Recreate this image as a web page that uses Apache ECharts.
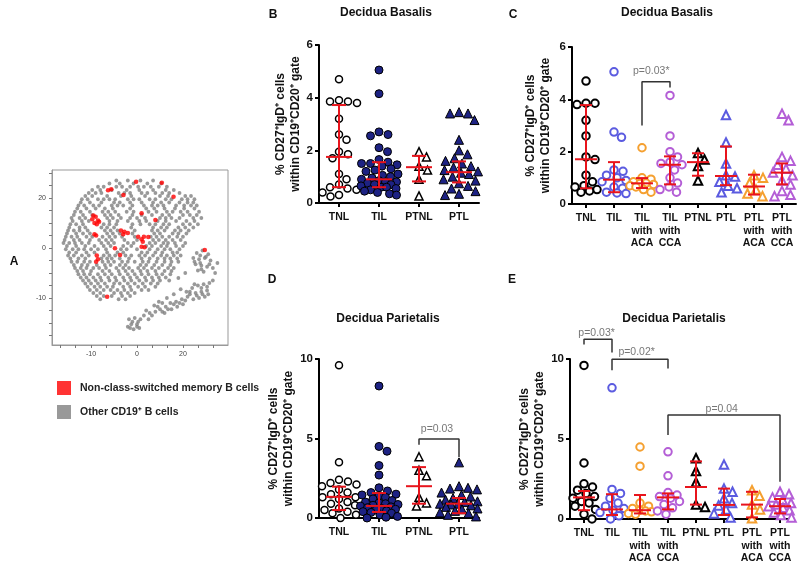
<!DOCTYPE html>
<html><head><meta charset="utf-8">
<script src="https://cdn.jsdelivr.net/npm/echarts@6/dist/echarts.min.js"></script>
<style>html,body{margin:0;padding:0;background:#fff}#c{width:800px;height:566px}</style>
</head><body><div id="c"></div>
<script>
// ================= DATA =================
// Panel A: t-SNE map
const tsneTickValues = [-20, 0, 20];
const tsneTickLabels = ['-10', '0', '20'];
const tsneGrayRows = [
  [27, -9, -4, 1.5, 7],
  [24.5, -17, -14.5, -9, -6.5, -3, 0.5, 3, 6, 9.5, 13],
  [22, -21, -18, -15.5, -8, -5.5, -3, 2, 4.5, 8, 11, 14, 18.5],
  [19.5, -24, -21.5, -17, -14.5, -12, -9.5, -4, -1.5, 1, 5.5, 8, 12.5, 15, 19.5, 22, 25],
  [17, -25.5, -23, -19, -16.5, -11, -8.5, -6, -2, 3, 6.5, 9, 11.5, 17, 20.5, 23.5, 26],
  [14.5, -27, -24.5, -20.5, -15, -12.5, -9.5, -4.5, -1.5, 5, 8.5, 13, 15.5, 19, 22, 27],
  [12, -28.5, -25, -22.5, -13, -10.5, -7, -3, 0, 3.5, 10, 12.5, 15, 18.5, 24.5, 28],
  [9.5, -29, -26.5, -23.5, -14.5, -12, -9, -2, 1.5, 5.5, 8, 11.5, 14, 20, 23, 26.5],
  [7, -30, -27.5, -25, -21.5, -14, -11.5, -8.5, -1, 6.5, 9, 12, 16.5, 19, 22.5],
  [4.5, -31, -28.5, -26, -22, -19.5, -15, -12, -9.5, -6.5, -1, 6, 8.5, 11, 14, 17.5, 20],
  [2, -32, -29.5, -27, -24, -21, -15.5, -12.5, -10, -4, -1.5, 5.5, 8, 11.5, 13.5, 16.5, 21],
  [-0.5, -31, -28, -25.5, -23, -20, -17, -13.5, -7, -4.5, 0, 5.5, 9, 12, 14.5, 18.5],
  [-3, -30, -27.5, -24, -21, -14.5, -12, -9.5, -5, -2.5, 1, 3.5, 7, 10.5, 13, 16, 19],
  [-5.5, -28.5, -26, -23, -20.5, -15, -12.5, -10, -6.5, -4, -1, 2.5, 5, 8.5, 12, 15, 18],
  [-8, -27, -24.5, -22, -19, -16.5, -13.5, -9, -6, -3.5, 0.5, 3, 6.5, 9.5, 13.5, 16],
  [-10.5, -25.5, -23, -20.5, -17, -14, -11, -7.5, -4, -1, 2, 5, 8.5, 11, 14.5],
  [-13, -23.5, -21, -18, -15.5, -12, -9, -5.5, -2.5, 1, 4, 7, 10],
  [-15.5, -21.5, -18.5, -16, -13, -10.5, -6, -3, 0.5, 3.5, 8],
  [-18, -19, -16, -10, -7, -4, -1],
  [-20.5, -16, -8, -5],
  [25.8, -12, -7.5, -1.5, 4.5, 10.5],
  [23.2, -19.5, -16, -11, -4.5, 1, 7, 12.5, 16],
  [20.8, -22.5, -19.5, -13, -7, -2.5, 3.5, 10, 13.5, 21, 23.5],
  [18.2, -24.5, -20.5, -15.5, -10, -7.5, -3, 2, 7, 10.5, 14, 18.5, 22, 24.5],
  [15.8, -26, -22, -18, -14, -10.5, -3, 4, 7.5, 12, 16.5, 20.5, 25],
  [13.2, -27.5, -23.5, -19.5, -14, -11.5, -8, -2, 2, 6.5, 11, 14, 20, 23, 26],
  [10.8, -28, -24, -21, -12, -8.5, -4, 1, 4, 9, 12.5, 17, 21.5, 25],
  [8.2, -29.5, -25, -22.5, -15.5, -13, -10, -2.5, 7, 10.5, 13, 18, 21, 24.5],
  [5.8, -30.5, -26.5, -23.5, -20.5, -13, -10.5, -7.5, -2, 7.5, 10, 15.5, 18, 21.5],
  [3.2, -31.5, -27.5, -25, -20.5, -16.5, -13.5, -11, -5.5, 0, 7, 9.5, 12.5, 15.5, 19],
  [0.8, -30.5, -26.5, -22.5, -18.5, -14.5, -11.5, -6, -2.5, 4, 6.5, 10.5, 13, 17, 20],
  [-1.8, -29.5, -26.5, -22, -18.5, -13, -8.5, -6, 2, 4.5, 8, 11, 15.5, 17.5],
  [-4.2, -29, -25.5, -22.5, -15.5, -13, -11, -7.5, -3.5, 2, 5.5, 9, 12, 14.5, 17.5],
  [-6.8, -27.5, -24, -21.5, -17.5, -14, -11.5, -7.5, -5, 1.5, 4, 7.5, 11, 14.5],
  [-9.2, -26, -23.5, -20, -15, -12, -8, -5, -2, 1.5, 4.5, 8, 12, 15],
  [-11.8, -24.5, -22, -19, -16, -12.5, -9.5, -6, -3, 0, 3.5, 6.5, 9.5, 12.5],
  [-14.2, -22.5, -20, -17, -14, -10, -7.5, -4, -1, 2.5, 6, 9],
  [-16.8, -20.5, -17.5, -14.5, -11.5, -8.5, -5.5, -2.5, 2, 5],
  [-19.2, -17.5, -14.5, -11, -6.5, -3]
];
const tsneGrayExtra = [
  [26,-2],[28.5,-1],[31,-2.5],[24.5,-4],[27,-4.5],[29.5,-4],[32,-5],[25.5,-6.5],[28,-7],[30.5,-7.5],[26.5,-9],[29,-9.5],[33,-8],
  [27.5,-3],[30,-3.5],[25,-5.5],[27.5,-6],[31.5,-6.5],[28,-8.5],
  [24,-16],[26.5,-15],[29,-14.5],[31.5,-14],[23,-18.5],[25.5,-18],[28,-17.5],[30.5,-17],[24.5,-20.5],[27,-20],[29.5,-19.5],[33,-13],
  [25,-14.5],[28,-16],[30.5,-15.5],[26,-19],[28.5,-18.5],[31,-18.5],
  [3,-27],[5.5,-26],[5,-28.5],[8,-25.5],[7.5,-23],[10,-24.5],[12.5,-23.5],[12,-26],[14.5,-22],[15,-24.5],[17,-21.5],[17.5,-23.5],
  [19.5,-20.5],[20,-22.5],[22,-19.5],[21.5,-17.5],[9.5,-21.5],[13,-20],[16,-18.5],[19,-16.5],
  [4,-25],[6.5,-27],[9,-23.5],[11,-25.5],[13.5,-24.5],[16,-22.5],[18.5,-22],[21,-21],[23,-17.5],[11,-22],
  [-3.5,-28.5],[-1,-28],[1.5,-28.5],[-2.5,-30.5],[0,-30.5],[-4,-31.5],[-1.5,-32.5],[1,-32],
  [-2,-29.5],[0.5,-29.5],[-3,-32],[0,-31.5],
  [14,-13],[18,-12],[21,-10],[34,-10],[35,-6]
];
const tsneRed = [
  [-12.6,23.1],[-11.2,23.5],[-5.9,21.2],[-0.4,26.5],[10.8,26.1],[15.9,20.5],[2.0,13.9],[8.0,11.2],
  [-19.5,11.5],[-18,12.5],[-17,11],[-18.5,10],[-16.5,10.5],[-19,13],[-17.5,9.5],[-18.5,5.5],[-17.8,5],
  [-7,7],[-5.5,6.5],[-4,6],[-6,5.5],[0.5,4.5],[2,3.5],[3,4.5],[2.5,2.5],[2,0.5],[3.3,0.3],[4.9,4.4],
  [-9.6,-0.1],[-7.4,-2.8],[-17.5,-3],[-17,-4.5],[-17.8,-5.5],[-13,-19.5],[29.5,-0.8]
];
const legendRed = 'Non-class-switched memory B cells';
const legendGray = 'Other CD19\u207A B cells';

// Categories
const catsBD = ['TNL', 'TIL', 'PTNL', 'PTL'];
const catsCE = ['TNL', 'TIL', 'TIL\nwith\nACA', 'TIL\nwith\nCCA', 'PTNL', 'PTL', 'PTL\nwith\nACA', 'PTL\nwith\nCCA'];

// Panel B: Decidua Basalis
const basalisTNL = [4.7, 3.9, 3.85, 3.8, 3.85, 3.2, 2.6, 2.4, 1.95, 1.85, 1.7, 1.1, 0.9, 0.7, 0.6, 0.55, 0.5, 0.4, 0.3, 0.25];
const basalisTIL = [5.05, 4.15, 2.7, 2.6, 2.55, 2.1, 1.95, 1.65, 1.55, 1.5, 1.5, 1.45, 1.4, 1.3, 1.25, 1.2, 1.1, 1.05, 1.0, 0.95, 0.9, 0.85, 0.8, 0.8, 0.75, 0.7, 0.7, 0.65, 0.6, 0.6, 0.55, 0.5, 0.45, 0.4, 0.35, 0.3];
const basalisPTNL = [1.95, 1.75, 1.4, 1.25, 0.9, 0.27];
const basalisPTL = [3.45, 3.4, 3.4, 3.15, 2.4, 2.0, 1.85, 1.7, 1.6, 1.5, 1.4, 1.35, 1.25, 1.2, 1.15, 1.1, 1.0, 0.9, 0.85, 0.75, 0.65, 0.55, 0.45, 0.35, 0.3];
const basalisMedian = [1.75, 0.9, 1.36, 1.17];
const basalisQ1 = [0.6, 0.6, 0.82, 0.78];
const basalisQ3 = [3.72, 1.55, 1.79, 1.58];

// Panel C: Decidua Basalis by subgroup
const cTNL = [4.7, 3.85, 3.85, 3.8, 3.2, 2.6, 1.8, 1.7, 1.1, 0.85, 0.7, 0.65, 0.55, 0.5, 0.45];
const cTIL = [5.05, 2.75, 2.55, 1.3, 1.25, 1.1, 1.0, 0.9, 0.85, 0.65, 0.6, 0.45, 0.42, 0.4];
const cTILACA = [2.15, 1.0, 0.95, 0.85, 0.8, 0.78, 0.75, 0.7, 0.65, 0.55, 0.45];
const cTILCCA = [4.15, 2.6, 2.0, 1.8, 1.6, 1.55, 1.5, 1.3, 1.0, 0.8, 0.65, 0.55, 0.45];
const cPTNL = [1.95, 1.7, 1.45, 0.9];
const cPTL = [3.4, 2.35, 1.55, 1.1, 1.05, 0.85, 0.7, 0.6, 0.45];
const cPTLACA = [1.1, 1.0, 0.8, 0.55, 0.4, 0.3];
const cPTLCCA = [3.45, 3.2, 1.8, 1.65, 1.5, 1.35, 1.2, 1.1, 0.9, 0.75, 0.5, 0.35, 0.3];
const cMedian = [1.71, 0.93, 0.79, 1.5, 1.6, 1.07, 0.67, 1.2];
const cQ1 = [0.6, 0.45, 0.61, 0.75, 1.08, 0.72, 0.36, 0.75];
const cQ3 = [3.78, 1.6, 0.99, 1.82, 1.94, 2.2, 1.12, 1.55];
const cBrackets = [[2, 3, 3.0, 4.67, 4.45]];
const cPLabels = [[2.33, 5.06, 'p=0.03*']];

// Panel D: Decidua Parietalis
const dTNL = [9.6, 3.5, 2.4, 2.3, 2.2, 2.1, 2.0, 1.8, 1.6, 1.5, 1.3, 1.3, 1.2, 1.0, 0.9, 0.8, 0.6, 0.5, 0.4, 0.3, 0.2, 0.0];
const dTIL = [8.3, 4.5, 4.2, 3.3, 2.7, 1.9, 1.7, 1.6, 1.5, 1.45, 1.4, 1.3, 1.2, 1.1, 1.0, 0.95, 0.9, 0.85, 0.8, 0.75, 0.7, 0.65, 0.6, 0.55, 0.5, 0.45, 0.4, 0.35, 0.3, 0.2, 0.1, 0.05, 0.0];
const dPTNL = [3.85, 3.0, 2.65, 1.3, 0.95, 0.75];
const dPTL = [3.5, 2.0, 1.9, 1.85, 1.8, 1.6, 1.45, 1.35, 1.25, 1.15, 1.05, 1.0, 0.9, 0.9, 0.85, 0.8, 0.7, 0.6, 0.55, 0.45, 0.35, 0.3, 0.2, 0.1];
const dMedian = [1.33, 0.76, 2.0, 0.9];
const dQ1 = [0.5, 0.38, 0.9, 0.3];
const dQ3 = [1.97, 1.57, 3.2, 1.26];
const dBrackets = [[2, 3, 4.6, 4.97, 3.84]];
const dPLabels = [[2.45, 5.6, 'p=0.03']];

// Panel E: Decidua Parietalis by subgroup
const eTNL = [9.6, 3.5, 2.2, 2.0, 1.8, 1.6, 1.4, 1.3, 1.1, 1.0, 0.8, 0.6, 0.3, 0.0];
const eTIL = [8.2, 1.85, 1.6, 1.3, 1.0, 0.8, 0.65, 0.55, 0.4, 0.2, 0.0];
const eTILACA = [4.5, 3.3, 1.0, 0.8, 0.65, 0.55, 0.5, 0.45, 0.35, 0.3];
const eTILCCA = [4.2, 2.7, 1.65, 1.5, 1.4, 1.3, 1.1, 0.9, 0.7, 0.5, 0.3];
const ePTNL = [3.8, 3.0, 2.3, 0.9, 0.75];
const ePTL = [3.4, 1.9, 1.7, 1.3, 1.0, 0.85, 0.6, 0.35, 0.1];
const ePTLACA = [1.8, 1.45, 0.9, 0.6, 0.05];
const ePTLCCA = [1.7, 1.55, 1.35, 1.2, 1.0, 0.9, 0.8, 0.7, 0.55, 0.4, 0.25, 0.1];
const eMedian = [1.35, 0.6, 0.55, 1.35, 2.0, 0.88, 0.9, 0.8];
const eQ1 = [0.55, 0.25, 0.35, 0.6, 0.9, 0.25, 0.1, 0.35];
const eQ3 = [1.75, 1.55, 1.5, 1.6, 3.6, 1.9, 1.7, 1.25];
const eBrackets = [[0, 1, 10.9, 11.23, 10.4], [1, 3, 9.3, 9.98, 9.4], [3, 7, 5.25, 6.5, 2.33]];
const ePLabels = [[0.45, 11.6, 'p=0.03*'], [1.88, 10.4, 'p=0.02*'], [4.92, 6.86, 'p=0.04']];

const yAxisName = '% CD27\u207AIgD\u207A cells\nwithin CD19\u207ACD20\u207A gate';

// ================= STYLES / LAYOUT =================
const FONT = 'Liberation Sans, Arial, Helvetica, sans-serif';
const NAVY = '#1d2283';
const styleBD = [
  {sym: 'circle', fill: '#fff', stroke: '#000', bw: 1.5, size: 7},
  {sym: 'circle', fill: NAVY, stroke: '#000', bw: 1, size: 8},
  {sym: 'triangle', fill: '#fff', stroke: '#000', bw: 1.5, size: 8},
  {sym: 'triangle', fill: NAVY, stroke: '#000', bw: 1, size: 9}
];
const ceColors = ['#000', '#5b5be0', '#f5a030', '#b45ed6', '#000', '#5b5be0', '#f5a030', '#b45ed6'];
const styleCE = ceColors.map((c, i) => ({sym: i < 4 ? 'circle' : 'triangle', fill: '#fff', stroke: c, bw: 2, size: i < 4 ? 7.5 : 8.5}));

const panels = [
  {grid: {left: 319, top: 45, width: 160, height: 158}, cats: catsBD, yMax: 6, yInt: 2,
   groups: [basalisTNL, basalisTIL, basalisPTNL, basalisPTL], med: basalisMedian, q1: basalisQ1, q3: basalisQ3,
   brackets: [], labels: [], styles: styleBD, nameGap: 15, medHalf: 13, capHalf: 7, spread: 9, maxOff: 19},
  {grid: {left: 572, top: 47, width: 224, height: 157}, cats: catsCE, yMax: 6, yInt: 2,
   groups: [cTNL, cTIL, cTILACA, cTILCCA, cPTNL, cPTL, cPTLACA, cPTLCCA], med: cMedian, q1: cQ1, q3: cQ3,
   brackets: cBrackets, labels: cPLabels, styles: styleCE, nameGap: 19, medHalf: 11, capHalf: 6, spread: 9, maxOff: 12},
  {grid: {left: 319, top: 359, width: 160, height: 159}, cats: catsBD, yMax: 10, yInt: 5,
   groups: [dTNL, dTIL, dPTNL, dPTL], med: dMedian, q1: dQ1, q3: dQ3,
   brackets: dBrackets, labels: dPLabels, styles: styleBD, nameGap: 15, medHalf: 13, capHalf: 7, spread: 9, maxOff: 19},
  {grid: {left: 570, top: 359, width: 224, height: 160}, cats: catsCE, yMax: 10, yInt: 5,
   groups: [eTNL, eTIL, eTILACA, eTILCCA, ePTNL, ePTL, ePTLACA, ePTLCCA], med: eMedian, q1: eQ1, q3: eQ3,
   brackets: eBrackets, labels: ePLabels, styles: styleCE, nameGap: 19, medHalf: 11, capHalf: 6, spread: 9, maxOff: 12}
];

// deterministic beeswarm layout: returns horizontal pixel offsets
function swarm(values, pxPerY, diam, maxOff) {
  const order = values.map((v, i) => i).sort((a, b) => values[b] - values[a]);
  const placed = [];
  const out = new Array(values.length).fill(0);
  for (const i of order) {
    const y = values[i] * pxPerY;
    let best = 0, bestD = -1;
    for (let k = 0; ; k++) {
      const cand = (k % 2 === 1 ? 1 : -1) * Math.ceil(k / 2) * 0.5;
      if (Math.abs(cand) > maxOff) break;
      let md = Infinity;
      placed.forEach(p => { md = Math.min(md, Math.hypot(p.x - cand, p.y - y)); });
      if (md >= diam) { best = cand; bestD = md; break; }
      if (md > bestD + 0.5) { bestD = md; best = cand; }
    }
    placed.push({x: best, y: y});
    out[i] = best;
  }
  return out;
}

const option = {
  animation: false,
  backgroundColor: '#fff',
  textStyle: {fontFamily: FONT},
  title: [],
  grid: [{left: 52, top: 170, width: 176, height: 175, show: true, borderColor: '#999', borderWidth: 1, outerBoundsMode: 'none'}],
  xAxis: [],
  yAxis: [],
  series: [],
  legend: {
    data: [{name: legendRed, icon: 'rect'}, {name: legendGray, icon: 'rect'}],
    orient: 'vertical', left: 52, top: 376, itemWidth: 14, itemHeight: 14, itemGap: 10,
    selectedMode: false,
    textStyle: {fontFamily: FONT, fontWeight: 'bold', fontSize: 10.5, color: '#222', padding: [0, 0, 0, 4]}
  }
};

// titles and panel letters
const tStyle = {fontFamily: FONT, fontWeight: 'bold', fontSize: 12, color: '#111'};
option.title.push(
  {text: 'Decidua Basalis', left: 386, top: 7, textAlign: 'center', padding: 0, textStyle: tStyle},
  {text: 'Decidua Basalis', left: 667, top: 7, textAlign: 'center', padding: 0, textStyle: tStyle},
  {text: 'Decidua Parietalis', left: 388, top: 313, textAlign: 'center', padding: 0, textStyle: tStyle},
  {text: 'Decidua Parietalis', left: 674, top: 313, textAlign: 'center', padding: 0, textStyle: tStyle},
  {text: 'A', left: 14, top: 256, textAlign: 'center', padding: 0, textStyle: tStyle},
  {text: 'B', left: 273, top: 9, textAlign: 'center', padding: 0, textStyle: tStyle},
  {text: 'C', left: 513, top: 9, textAlign: 'center', padding: 0, textStyle: tStyle},
  {text: 'D', left: 272, top: 274, textAlign: 'center', padding: 0, textStyle: tStyle},
  {text: 'E', left: 512, top: 274, textAlign: 'center', padding: 0, textStyle: tStyle}
);

// t-SNE axes
const tsneTicksX = [];
for (let k = -5; k <= 5; k++) tsneTicksX.push(k * 20 / 3);
const tsneTicksY = [];
for (let k = -7; k <= 6; k++) tsneTicksY.push(k * 5);
const tsneLabelFmt = v => { const i = tsneTickValues.indexOf(v); return i >= 0 ? tsneTickLabels[i] : ''; };
option.xAxis.push({type: 'value', gridIndex: 0, min: -37, max: 39.6,
  axisLine: {show: true, onZero: false, lineStyle: {color: '#999', width: 1}},
  axisTick: {show: true, customValues: tsneTicksX, length: 3, lineStyle: {color: '#777'}},
  axisLabel: {customValues: tsneTickValues, formatter: tsneLabelFmt, fontSize: 7, color: '#444', margin: 6},
  splitLine: {show: false}});
option.yAxis.push({type: 'value', gridIndex: 0, min: -38.8, max: 31.2,
  axisLine: {show: true, onZero: false, lineStyle: {color: '#999', width: 1}},
  axisTick: {show: true, customValues: tsneTicksY, length: 3, lineStyle: {color: '#777'}},
  axisLabel: {customValues: tsneTickValues, formatter: tsneLabelFmt, fontSize: 7, color: '#444', margin: 6},
  splitLine: {show: false}});

const grayData = [];
tsneGrayRows.forEach(r => { for (let j = 1; j < r.length; j++) grayData.push([r[j], r[0]]); });
tsneGrayExtra.forEach(p => grayData.push(p));
option.series.push({name: legendGray, type: 'scatter', xAxisIndex: 0, yAxisIndex: 0, data: grayData,
  symbol: 'circle', symbolSize: 3.8, itemStyle: {color: '#808080'}, silent: true, z: 2});
option.series.push({name: legendRed, type: 'scatter', xAxisIndex: 0, yAxisIndex: 0, data: tsneRed,
  symbol: 'circle', symbolSize: 4.6, itemStyle: {color: '#ff0000'}, silent: true, z: 3});

// dot-plot panels
panels.forEach((p, k) => {
  const gi = k + 1;
  const n = p.cats.length;
  option.grid.push(Object.assign({outerBoundsMode: 'none'}, p.grid));
  option.xAxis.push({type: 'category', gridIndex: gi, data: p.cats, boundaryGap: true, position: 'bottom',
    axisLine: {show: true, onZero: false, lineStyle: {color: '#000', width: 2}},
    axisTick: {show: true, alignWithLabel: true, length: 4, lineStyle: {color: '#000', width: 2}},
    axisLabel: {interval: 0, fontFamily: FONT, fontWeight: 'bold', fontSize: 10.5, color: '#111', lineHeight: 12.5, margin: 8},
    splitLine: {show: false}});
  const valAx = option.xAxis.length;
  option.xAxis.push({type: 'value', gridIndex: gi, min: -0.5, max: n - 0.5, show: false, position: 'top',
    axisLine: {onZero: false}});
  const yAx = option.yAxis.length;
  option.yAxis.push({type: 'value', gridIndex: gi, min: 0, max: p.yMax, interval: p.yInt,
    name: yAxisName, nameLocation: 'middle', nameGap: p.nameGap, nameRotate: 90,
    nameTextStyle: {fontFamily: FONT, fontWeight: 'bold', fontSize: 12, color: '#111', lineHeight: 15},
    axisLine: {show: true, onZero: false, lineStyle: {color: '#000', width: 2}},
    axisTick: {show: true, length: 4, lineStyle: {color: '#000', width: 2}},
    axisLabel: {fontFamily: FONT, fontWeight: 'bold', fontSize: 11.5, color: '#111', margin: 6},
    splitLine: {show: false}});

  const pxCat = p.grid.width / n;
  const pxY = p.grid.height / p.yMax;
  p.groups.forEach((vals, g) => {
    const st = p.styles[g];
    const offs = swarm(vals, pxY, p.spread, p.maxOff);
    option.series.push({type: 'scatter', xAxisIndex: valAx, yAxisIndex: yAx,
      data: vals.map((v, j) => [g + offs[j] / pxCat, v]),
      symbol: st.sym, symbolSize: st.size,
      itemStyle: {color: st.fill, borderColor: st.stroke, borderWidth: st.bw, opacity: 1},
      silent: true, clip: false, z: 2});
  });

  const mh = p.medHalf, ch = p.capHalf;
  option.series.push({type: 'custom', xAxisIndex: valAx, yAxisIndex: yAx, silent: true, z: 5, clip: false,
    data: p.med.map((m, i) => [i, m, p.q1[i], p.q3[i]]),
    encode: {x: 0, y: 1},
    renderItem: (params, api) => {
      const i = api.value(0);
      const pm = api.coord([i, api.value(1)]);
      const pl = api.coord([i, api.value(2)]);
      const ph = api.coord([i, api.value(3)]);
      const st = {stroke: '#e8141c', lineWidth: 2};
      return {type: 'group', children: [
        {type: 'line', shape: {x1: ph[0], y1: ph[1], x2: pl[0], y2: pl[1]}, style: st},
        {type: 'line', shape: {x1: pm[0] - mh, y1: pm[1], x2: pm[0] + mh, y2: pm[1]}, style: st},
        {type: 'line', shape: {x1: ph[0] - ch, y1: ph[1], x2: ph[0] + ch, y2: ph[1]}, style: st},
        {type: 'line', shape: {x1: pl[0] - ch, y1: pl[1], x2: pl[0] + ch, y2: pl[1]}, style: st}
      ]};
    }});

  p.brackets.forEach(b => {
    option.series.push({type: 'line', xAxisIndex: valAx, yAxisIndex: yAx,
      data: [[b[0], b[2]], [b[0], b[3]], [b[1], b[3]], [b[1], b[4]]],
      symbol: 'none', lineStyle: {color: '#333', width: 1.5}, clip: false, silent: true, z: 4});
  });
  if (p.labels.length) {
    option.series.push({type: 'scatter', xAxisIndex: valAx, yAxisIndex: yAx, clip: false, silent: true, z: 4,
      data: p.labels.map(l => ({value: [l[0], l[1]], label: {formatter: l[2]}})),
      symbolSize: 1, itemStyle: {color: 'rgba(0,0,0,0)'},
      label: {show: true, position: 'inside', fontFamily: FONT, fontSize: 10.5, color: '#555'}});
  }
});

const chart = echarts.init(document.getElementById('c'));
chart.setOption(option);
</script>
</body></html>
